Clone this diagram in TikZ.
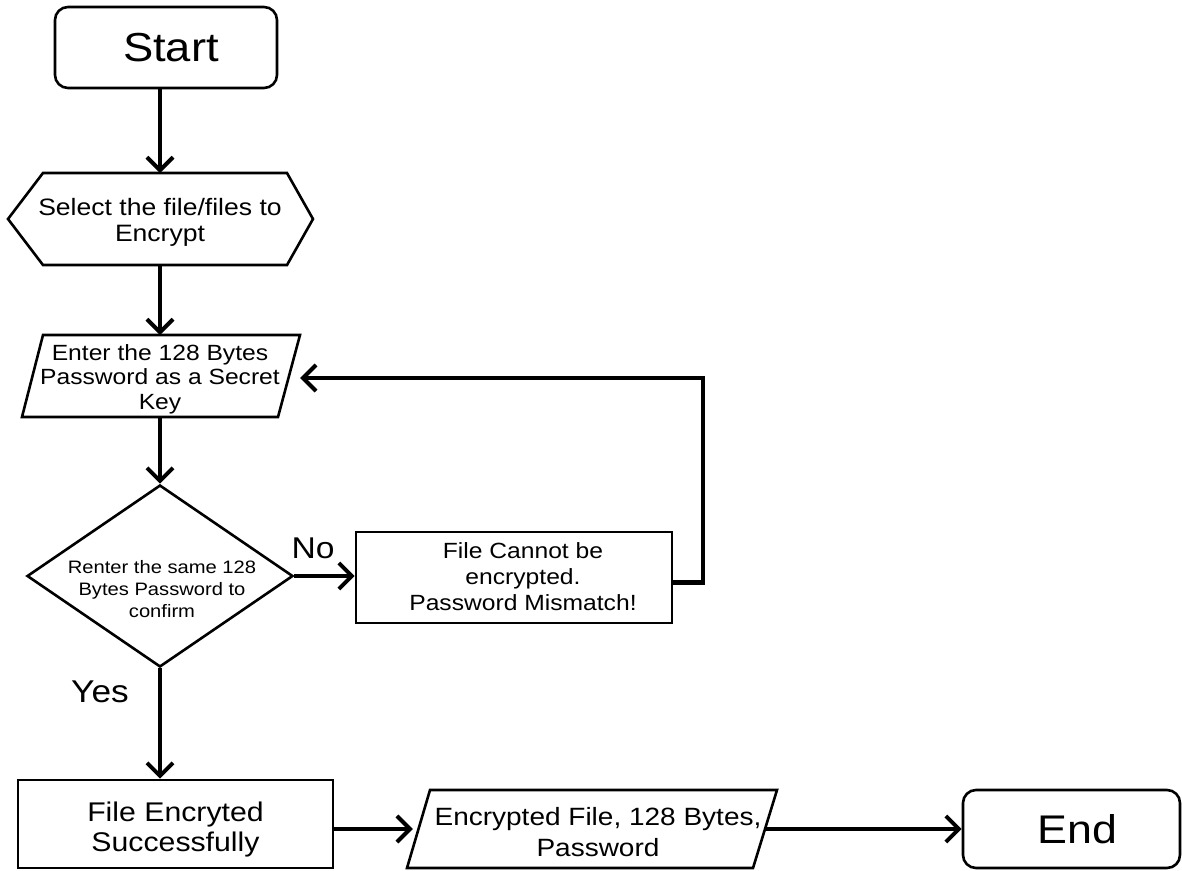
\documentclass[tikz,border=0pt]{standalone}
\usepackage{fontspec}
\setmainfont{Liberation Sans}[FakeStretch=1.12]
\usetikzlibrary{arrows.meta,shapes.geometric}
\tikzset{
  box/.style={draw, line width=2.6pt, inner sep=0pt, align=center},
  ghost/.style={draw=none, inner sep=0pt, align=center},
  txt/.style={inner sep=0pt, align=center},
  outline/.style={line width=2.6pt, line join=miter},
  arr/.style={line width=4.3pt, -{Straight Barb[length=13pt,width=26pt,line width=4pt]}},
  lbl/.style={inner sep=0pt}
}
\begin{document}
\begin{tikzpicture}[x=1pt,y=-1pt]
\useasboundingbox (0,0) rectangle (1182,870);
\fill[white] (0,0) rectangle (1182,870);

% Start
\node[box, rounded corners=13pt, minimum width=222pt, minimum height=81pt] (start) at (166,47.5) {};
\node[txt, font=\fontsize{40.5}{44}\selectfont] (starttxt) at (171,47.5) {Start};

% Select hexagon
\draw[outline] (8,219) -- (43,173) -- (287,173) -- (313,219) -- (287,265) -- (43,265) -- cycle;
\node[ghost, minimum width=305pt, minimum height=92pt,
      font=\fontsize{23.7}{26}\selectfont] (sel) at (160,222) {Select the file/files to\\Encrypt};

% Enter parallelogram
\draw[outline] (43,335) -- (300,335) -- (278,417) -- (22,417) -- cycle;
\node[ghost, minimum width=280pt, minimum height=82pt,
      font=\fontsize{22}{24.5}\selectfont] (ent) at (160,379) {Enter the 128 Bytes\\Password as a Secret\\Key};

% Decision
\node[box, diamond, minimum width=266pt, minimum height=182pt] (dia) at (160,576) {};
\node[txt, font=\fontsize{18}{22}\selectfont] (diatxt) at (162,589) {Renter the same 128\\Bytes Password to\\confirm};

% Mismatch
\node[box, minimum width=316pt, minimum height=91pt] (mis) at (514,577.5) {};
\node[txt, font=\fontsize{22}{26}\selectfont] (mistxt) at (523,577) {File Cannot be\\encrypted.\\Password Mismatch!};

% Success
\node[box, minimum width=315pt, minimum height=88pt] (yes) at (175.5,824) {};
\node[txt, font=\fontsize{27}{30}\selectfont] (yestxt) at (175.5,830) {File Encryted\\Successfully};

% Output parallelogram
\draw[outline] (430,790) -- (777,790) -- (753,868) -- (407,868) -- cycle;
\node[ghost, minimum width=370pt, minimum height=78pt,
      font=\fontsize{25}{31}\selectfont] (enc) at (598,832) {Encrypted File, 128 Bytes,\\Password};

% End
\node[box, rounded corners=13pt, minimum width=217pt, minimum height=78pt] (end) at (1071.5,829) {};
\node[txt, font=\fontsize{40}{44}\selectfont] (endtxt) at (1077.5,829) {End};

% Labels
\node[lbl, font=\fontsize{30}{32}\selectfont] (no) at (313,548) {No};
\node[lbl, font=\fontsize{31.5}{33}\selectfont] (yeslbl) at (100,692) {Yes};

% Connectors
\coordinate (loop) at (703,378);
\draw[arr] (start.south -| sel.north) -- (sel.north |- 0,173);
\draw[arr] (sel.north |- 0,265) -- (sel.north |- 0,335);
\draw[arr] (ent.north |- 0,417) -- (dia.north);
\draw[arr] (dia.east) -- (dia.east -| mis.west);
\draw[arr] ([yshift=-5pt]mis.east) -| (loop) -- (loop -| ent.east);
\draw[arr] (dia.south) -- (dia.south |- yes.north);
\draw[arr] (yes.east |- 0,829) -- (enc.west |- 0,829);
\draw[arr] ([xshift=-18pt]enc.east |- 0,829) -- (end.west);
\end{tikzpicture}
\end{document}
